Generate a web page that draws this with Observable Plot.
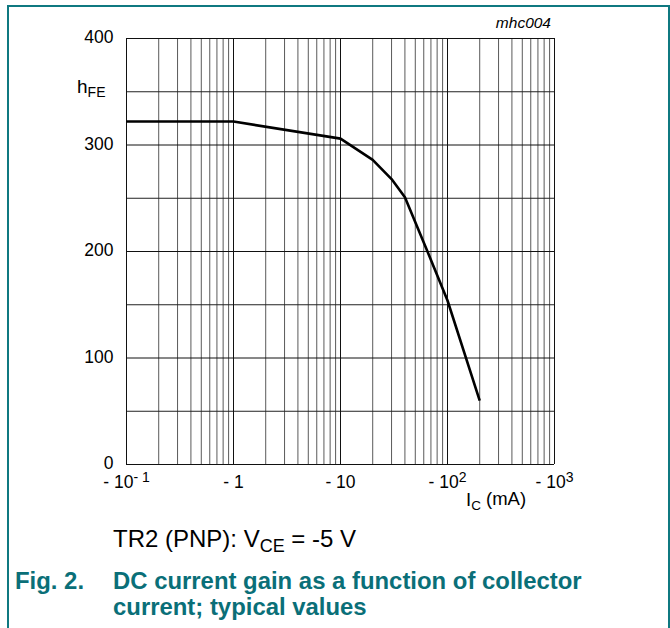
<!DOCTYPE html>
<html>
<head>
<meta charset="utf-8">
<script src="https://cdn.jsdelivr.net/npm/d3@7"></script>
<script src="https://cdn.jsdelivr.net/npm/@observablehq/plot@0.6"></script>
<style>
  html, body { margin: 0; padding: 0; background: #fff; }
  body { width: 670px; height: 628px; position: relative; overflow: hidden; font-family: "Liberation Sans", Arial, sans-serif; }
  #frame { position: absolute; left: 7px; top: 5px; width: 659px; height: 640px; border: 2px solid #0f7880; border-bottom: none; }
  #chart { position: absolute; left: 0; top: 0; }
  .cond { position: absolute; left: 113px; top: 525px; font-size: 24px; color: #000; white-space: nowrap; }
  .cond sub { font-size: 0.75em; vertical-align: -0.25em; line-height: 0; }
  .fig { position: absolute; top: 568px; font-size: 23.9px; font-weight: bold; color: #0a6f78; line-height: 26px; white-space: nowrap; }
</style>
</head>
<body>
<div id="frame"></div>
<div id="chart"></div>
<div class="cond">TR2 (PNP): V<sub>CE</sub> = -5 V</div>
<div class="fig" style="left:15px">Fig. 2.</div>
<div class="fig" style="left:113px">DC current gain as a function of collector<br>current; typical values</div>
<script>
// Data
const collectorCurrent = [0.1, 1, 10, 20, 30, 40, 65, 100, 200];      // |I_C| in mA
const hFE              = [322, 322, 306, 286, 268, 251, 200, 154, 60];

const xDecades   = [0.1, 1, 10, 100, 1000];
const xTickBase  = ["- 10", "- 1", "- 10", "- 10", "- 10"];
const xTickExp   = ["- 1", "", "", "2", "3"];
const yTicks     = [0, 100, 200, 300, 400];
const yGridMinor = [50, 150, 250, 350];

const xMinor = xDecades.slice(0, -1).flatMap(d => d3.range(2, 10).map(k => k * d));
const curve = collectorCurrent.map((c, i) => ({c, h: hFE[i]}));

const chart = Plot.plot({
  width: 670,
  height: 520,
  marginLeft: 126,
  marginRight: 116,
  marginTop: 38,
  marginBottom: 56,
  style: {fontFamily: "Liberation Sans, Arial, sans-serif", background: "transparent", overflow: "visible"},
  x: {type: "log", domain: [0.1, 1000]},
  y: {domain: [0, 400]},
  marks: [
    Plot.ruleX(xMinor, {stroke: "#5a5a5a", strokeWidth: 1}),
    Plot.ruleY(yGridMinor, {stroke: "#222", strokeWidth: 1}),
    Plot.ruleY(yTicks, {stroke: "#111", strokeWidth: 1}),
    Plot.ruleX(xDecades, {stroke: "#111", strokeWidth: 1}),
    Plot.line(curve, {x: "c", y: "h", stroke: "#000", strokeWidth: 2.6, strokeLinejoin: "round", strokeLinecap: "butt"}),
    Plot.axisY(yTicks, {tickSize: 0, tickPadding: 13, fontSize: 17.5, dy: -1, fill: "#000", label: null}),
    Plot.axisX(xDecades, {tickSize: 0, tickPadding: 11, fontSize: 17.5, fill: "#000", label: null,
      tickFormat: d => xTickBase[xDecades.indexOf(d)] + "|" + xTickExp[xDecades.indexOf(d)]})
  ]
});
document.getElementById("chart").appendChild(chart);

const svg = d3.select(chart);
// superscripts for x tick labels
svg.selectAll("text").each(function() {
  const t = d3.select(this);
  const s = t.text();
  if (!s.includes("|")) return;
  const [base, exp] = s.split("|");
  t.selectAll("*").remove();
  t.text(null);
  t.append("tspan").text(base);
  if (exp) t.append("tspan").attr("dy", "-0.45em").attr("font-size", "0.8em").text(exp);
});

// axis titles
const hfe = svg.append("text").attr("x", 77).attr("y", 93).attr("text-anchor", "start").attr("font-size", 19).attr("fill", "#000");
hfe.append("tspan").text("h");
hfe.append("tspan").attr("dy", "0.3em").attr("font-size", 14).text("FE");

const ic = svg.append("text").attr("x", 466).attr("y", 506).attr("text-anchor", "start").attr("font-size", 18.5).attr("fill", "#000");
ic.append("tspan").text("I");
ic.append("tspan").attr("dy", "0.3em").attr("font-size", 13.5).text("C");
ic.append("tspan").attr("dy", "-0.3em").text(" (mA)");

svg.append("text").attr("x", 551).attr("y", 28).attr("text-anchor", "end")
  .attr("font-size", 15.5).attr("font-style", "italic").attr("fill", "#000").text("mhc004");
</script>
</body>
</html>
